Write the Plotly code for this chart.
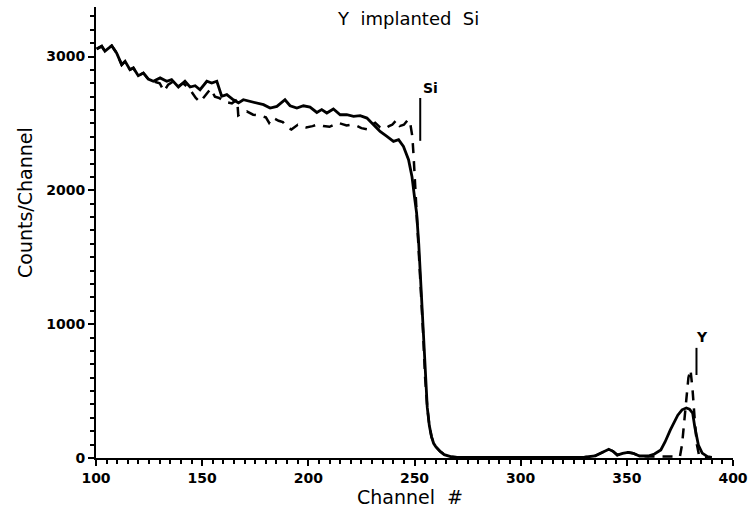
import plotly.graph_objects as go

# Solid spectrum (channel, counts)
solid_ch = [100.3, 102.7, 104.2, 107.4, 109.7, 112.1, 113.7, 116, 117.6, 119.9, 122.3, 124.6, 127,
            130.2, 133.3, 135.6, 138.8, 141.9, 144.3, 146.7, 149, 152.2, 154.5, 156.9, 159.2, 161.6,
            164.7, 167.1, 169.4, 172.6, 175.7, 178.9, 182, 185.2, 189, 191.4, 194.6, 197.7, 200.8,
            204, 206.3, 208.7, 211.8, 215, 218.1, 221.3, 224.4, 227.6, 230.7, 233.8, 237, 240.1,
            242.5, 244.8, 247.2, 248.8, 250, 251, 252, 253, 254, 255, 256, 257, 258, 259, 260, 262,
            264, 267, 270, 280, 300, 320, 330, 335, 338, 341.5, 343.5, 345.5, 348, 350.5, 353, 356,
            360, 363, 366, 368, 370.5, 372, 374, 376, 378, 379.5, 381, 382, 383, 383.7, 385.5, 388,
            390]
solid_val = [3057, 3077, 3040, 3081, 3027, 2939, 2965, 2902, 2915, 2857, 2877, 2832, 2815,
             2840, 2815, 2827, 2772, 2815, 2772, 2782, 2752, 2815, 2802, 2815, 2703, 2715,
             2677, 2653, 2677, 2665, 2653, 2640, 2615, 2627, 2677, 2632, 2615, 2632, 2622,
             2582, 2603, 2578, 2608, 2565, 2565, 2553, 2558, 2540, 2490, 2440, 2403, 2366,
             2378, 2328, 2229, 2104, 1950, 1830, 1600, 1300, 950, 600, 380, 240, 160, 110, 85, 50,
             25, 10, 5, 4, 4, 5, 6, 15, 40, 65, 50, 22, 35, 42, 35, 15,
             15, 30, 60, 120, 210, 260, 320, 360, 374, 365, 336, 232, 150, 97, 37, 10,
             5]

# Dashed spectrum (channel, counts)
dash_ch = [100.3, 102.7, 104.2, 107.4, 109.7, 112.1, 113.7, 116, 117.6, 119.9, 122.3, 124.6, 127,
           130, 132, 134, 136, 138, 141, 144, 147, 149, 151, 154, 156, 158, 161, 164, 166.5, 167,
           169, 171, 174, 177, 180, 181.5, 183, 186, 188, 190, 192, 195, 197, 199, 202, 204, 207,
           210, 212, 214, 216, 218, 220, 223, 225, 228, 230, 231.5, 233.8, 236, 238, 239.5, 241.5,
           243, 245, 247, 248, 249, 249.6, 250.3, 251, 252, 253, 254, 255, 256, 257, 258, 259, 260,
           262, 264, 267, 270, 280, 300, 320, 330, 335, 338, 341.5, 343.5, 345.5, 348, 350.5, 353,
           356, 360, 365, 370, 374, 375, 376, 377, 378, 379, 380, 381, 382, 383, 384, 385, 388, 390]
dash_val = [3057, 3077, 3040, 3081, 3027, 2939, 2965, 2902, 2915, 2857, 2877, 2832, 2815,
            2800, 2740, 2790, 2810, 2770, 2800, 2760, 2690, 2660, 2700, 2760, 2700, 2690, 2660,
            2650, 2680, 2560, 2580, 2590, 2565, 2560, 2545, 2505, 2545, 2520, 2510, 2470, 2455,
            2490, 2480, 2470, 2480, 2490, 2480, 2475, 2490, 2505, 2495, 2485, 2490, 2480, 2465,
            2455, 2490, 2505, 2470, 2460, 2480, 2490, 2525, 2480, 2490, 2530, 2500, 2400, 2250,
            2055, 1840, 1600, 1300, 950, 600, 380, 240, 160, 110, 85, 50, 25, 10, 5, 4, 4, 5, 6,
            15, 40, 65, 50, 22, 35, 42, 35, 15, 12, 10, 8, 10, 10, 100, 260, 450, 600, 660, 500,
            280, 100, 20, 5, 4, 4]

# Element edge markers
marker_names = ["Si", "Y"]
marker_ch = [252.7, 382.8]
marker_lo = [2370, 620]
marker_hi = [2690, 823]
label_ch = [257.4, 385.4]
label_val = [2767, 905]

FONT = "DejaVu Sans"

fig = go.Figure()
fig.add_trace(go.Scatter(x=dash_ch, y=dash_val, mode="lines",
                         line=dict(color="black", width=2.5, dash="10px,8px"),
                         showlegend=False))
fig.add_trace(go.Scatter(x=solid_ch, y=solid_val, mode="lines",
                         line=dict(color="black", width=2.8),
                         showlegend=False))
for i, name in enumerate(marker_names):
    fig.add_trace(go.Scatter(x=[marker_ch[i], marker_ch[i]], y=[marker_lo[i], marker_hi[i]],
                             mode="lines", line=dict(color="black", width=2),
                             showlegend=False))
    fig.add_annotation(x=label_ch[i], y=label_val[i], text="<b>" + name + "</b>",
                       showarrow=False,
                       font=dict(size=14, color="black", family=FONT))

# title
fig.add_annotation(x=(408 - 96) / 637, y=(458 - 18) / 451, xref="paper", yref="paper",
                   text="Y  implanted  Si", showarrow=False, yanchor="middle",
                   font=dict(size=18, color="black", family=FONT))
# axis titles
fig.add_annotation(x=(410 - 96) / 637, y=-(497 - 458) / 451, xref="paper", yref="paper",
                   text="Channel  <i>#</i>", showarrow=False, yanchor="middle",
                   font=dict(size=19, color="black", family=FONT))
fig.add_annotation(x=-(96 - 25) / 637, y=(458 - 203) / 451, xref="paper", yref="paper",
                   text="Counts/Channel", showarrow=False, textangle=-90,
                   xanchor="center", yanchor="middle",
                   font=dict(size=19, color="black", family=FONT))

axis_font = dict(size=14, color="black", family=FONT, weight="bold")
fig.update_xaxes(range=[100, 400], showline=True, linecolor="black", linewidth=2,
                 ticks="outside", ticklen=6, tickwidth=2, tickcolor="black",
                 tickvals=[100, 150, 200, 250, 300, 350, 400], showgrid=False, zeroline=False,
                 minor=dict(dtick=5, ticks="outside", ticklen=4, tickwidth=2, tickcolor="black",
                            showgrid=False),
                 tickfont=axis_font, ticklabeloverflow="allow")
fig.update_yaxes(range=[0, 3370], showline=True, linecolor="black", linewidth=2,
                 ticks="outside", ticklen=6, tickwidth=2, tickcolor="black",
                 tickvals=[0, 1000, 2000, 3000], showgrid=False, zeroline=False,
                 minor=dict(dtick=100, ticks="outside", ticklen=4, tickwidth=2,
                            tickcolor="black", showgrid=False),
                 tickfont=axis_font, ticklabeloverflow="allow")

fig.update_layout(width=750, height=515, plot_bgcolor="white", paper_bgcolor="white",
                  margin=dict(l=96, r=17, t=7, b=57, autoexpand=False))
fig.write_html("out.html", config={"displayModeBar": False},
               post_script="document.body.style.margin='0px';document.body.style.overflow='hidden';")
